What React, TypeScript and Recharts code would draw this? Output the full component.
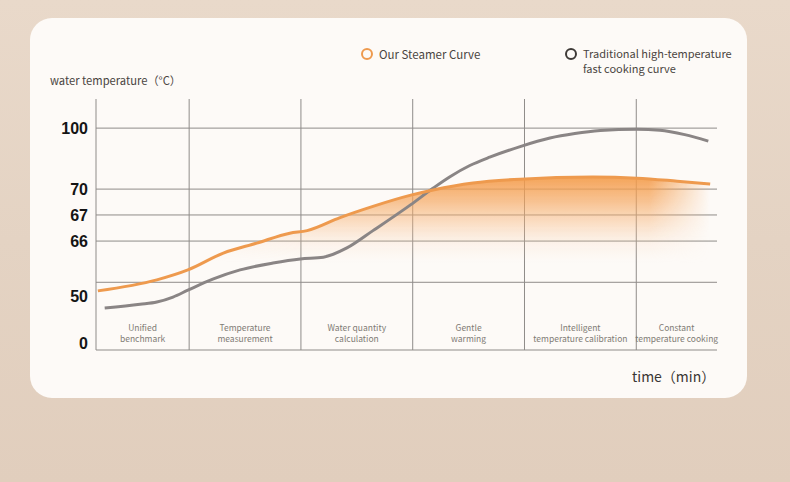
import React from 'react';
import { ComposedChart, Line, Area, XAxis, YAxis, CartesianGrid } from 'recharts';

// stage columns along the time axis (arbitrary minutes, 0..100)
const STAGE_BOUNDS = [0, 15, 33, 51, 69, 87];
const STAGE_MIDS = [7.5, 24, 42, 60, 78, 93.5];
const STAGE_LINES = [
  ['Unified', 'benchmark'],
  ['Temperature', 'measurement'],
  ['Water quantity', 'calculation'],
  ['Gentle', 'warming'],
  ['Intelligent', 'temperature calibration'],
  ['Constant', 'temperature cooking'],
];

const TEMP_TICKS = [0, 50, 66, 67, 70, 100];
const GRID_TEMPS = [54, 66, 67, 70, 100];

const STEAMER_TIME = [0.3, 9.8, 14.8, 20.5, 25.9, 31.2, 34.0, 39.3, 44.6, 50.7, 54.3, 60.7, 68.3, 80.0, 87.1, 93.6, 98.9];
const STEAMER_TEMP = [51.5, 54.7, 57.6, 62.5, 65.4, 66.3, 66.4, 66.9, 68.0, 69.3, 69.9, 73.0, 74.9, 75.9, 75.4, 73.9, 72.5];

const TRAD_TIME = [
  1.4, 7.1, 9.8, 12.4, 14.8, 18.8, 23.2, 28.5, 32.9, 36.6, 40.4, 44.6, 50.7, 54.3,
  57.0, 60.2, 63.4, 68.3, 73.1, 77.1, 81.2, 87.1, 90.8, 94.8, 98.6,
];
const TRAD_TEMP = [
  37.2, 41.2, 43.6, 48.9, 51.7, 54.9, 57.6, 59.6, 60.8, 61.3, 64.0, 66.4, 68.2, 70.5,
  76.1, 81.6, 85.7, 90.9, 95.1, 97.3, 98.8, 99.5, 99.0, 96.8, 93.6,
];

const steamerData = STEAMER_TIME.map((t, i) => ({ t, temp: STEAMER_TEMP[i] }));
const tradData = TRAD_TIME.map((t, i) => ({ t, temp: TRAD_TEMP[i] }));

// the y axis of the original is not linear: each labelled value sits at its own height
const SCALE_TEMPS = [-8, 0, 50, 66, 67, 70, 100, 114];
const SCALE_STOPS = [0, 0.028, 0.215, 0.434, 0.538, 0.641, 0.884, 1];

function brokenScale(dom: number[] = [-8, 114], rng: number[] = [0, 1]): any {
  const s: any = (v: number) => {
    let i = 0;
    while (i < SCALE_TEMPS.length - 2 && v > SCALE_TEMPS[i + 1]) i++;
    const t0 = SCALE_TEMPS[i];
    const t1 = SCALE_TEMPS[i + 1];
    const f = SCALE_STOPS[i] + ((v - t0) / (t1 - t0)) * (SCALE_STOPS[i + 1] - SCALE_STOPS[i]);
    return rng[0] + f * (rng[1] - rng[0]);
  };
  s.domain = (d?: number[]) => {
    if (!d) return dom.slice();
    dom = d.slice();
    return s;
  };
  s.range = (r?: number[]) => {
    if (!r) return rng.slice();
    rng = r.slice();
    return s;
  };
  s.copy = () => brokenScale(dom, rng);
  s.ticks = () => TEMP_TICKS;
  s.tickFormat = () => (v: number) => String(v);
  return s;
}

const FONT = '"Noto Sans CJK SC", "Noto Sans", sans-serif';
const ORANGE = '#ee9a4e';
const GREY = '#8a8585';
const GRID = '#8f8c89';

function StageTick({ x, y, index }: any) {
  const lines = STAGE_LINES[index] || [];
  return (
    <g>
      {lines.map((s, i) => (
        <text
          key={i}
          x={x}
          y={y - 23 + i * 11}
          textAnchor="middle"
          dominantBaseline="central"
          fontSize={8.5}
          fill="#807a75"
          fontFamily={FONT}
        >
          {s}
        </text>
      ))}
    </g>
  );
}

export default function App() {
  return (
    <div
      style={{
        position: 'absolute',
        left: 0,
        top: 0,
        width: 790,
        height: 482,
        background: 'linear-gradient(180deg, #e9d9ca 0%, #e4d3c3 50%, #e1cebd 100%)',
        overflow: 'hidden',
        fontFamily: FONT,
      }}
    >
      <div
        style={{
          position: 'absolute',
          left: 30,
          top: 18,
          width: 717,
          height: 380,
          borderRadius: 22,
          background: '#fdfaf7',
        }}
      />
      <div style={{ position: 'absolute', left: 50, top: 72, fontSize: 11.2, lineHeight: '16px', color: '#4a4541' }}>
        water temperature（°C）
      </div>
      <div
        style={{
          position: 'absolute',
          left: 361,
          top: 48,
          width: 8,
          height: 8,
          borderRadius: '50%',
          border: `2px solid ${ORANGE}`,
        }}
      />
      <div style={{ position: 'absolute', left: 379, top: 46, fontSize: 11.5, lineHeight: '16px', color: '#4a4541' }}>
        Our Steamer Curve
      </div>
      <div
        style={{
          position: 'absolute',
          left: 565,
          top: 48,
          width: 8,
          height: 8,
          borderRadius: '50%',
          border: '2px solid #3e3a37',
        }}
      />
      <div style={{ position: 'absolute', left: 583, top: 46, fontSize: 11, lineHeight: '14px', color: '#4a4541' }}>
        Traditional high-temperature
      </div>
      <div style={{ position: 'absolute', left: 583, top: 61, fontSize: 11, lineHeight: '14px', color: '#4a4541' }}>
        fast cooking curve
      </div>
      <div style={{ position: 'absolute', left: 632, top: 367, fontSize: 14, lineHeight: '18px', color: '#3a3633' }}>
        time（min）
      </div>

      <div style={{ position: 'absolute', left: 0, top: 0 }}>
        <ComposedChart width={790} height={482} margin={{ top: 99, right: 73, left: 36, bottom: 102 }}>
          <defs>
            <linearGradient id="glowFill" x1="0" y1="0" x2="0" y2="1">
              <stop offset="0" stopColor="#f39a48" stopOpacity={0.9} />
              <stop offset="0.15" stopColor="#f5a45a" stopOpacity={0.64} />
              <stop offset="0.28" stopColor="#f7b57a" stopOpacity={0.4} />
              <stop offset="0.4" stopColor="#f9c9a0" stopOpacity={0.15} />
              <stop offset="0.52" stopColor="#fbe0c8" stopOpacity={0} />
            </linearGradient>
            <linearGradient id="glowFade" x1="0" y1="0" x2="1" y2="0">
              <stop offset="0" stopColor="#fff" stopOpacity={0} />
              <stop offset="0.2" stopColor="#fff" stopOpacity={0.6} />
              <stop offset="0.35" stopColor="#fff" stopOpacity={1} />
              <stop offset="0.9" stopColor="#fff" stopOpacity={1} />
              <stop offset="1" stopColor="#fff" stopOpacity={0} />
            </linearGradient>
            <mask id="glowMask" maskContentUnits="objectBoundingBox">
              <rect x="0" y="0" width="1" height="1" fill="url(#glowFade)" />
            </mask>
          </defs>
          <CartesianGrid
            stroke={GRID}
            strokeWidth={1}
            horizontalValues={GRID_TEMPS}
            verticalValues={STAGE_BOUNDS}
          />
          <XAxis
            type="number"
            dataKey="t"
            domain={[0, 100]}
            ticks={STAGE_MIDS}
            interval={0}
            tick={<StageTick />}
            tickLine={false}
            tickSize={0}
            tickMargin={0}
            axisLine={{ stroke: GRID }}
            allowDuplicatedCategory={false}
          />
          <YAxis
            type="number"
            domain={[-8, 114]}
            scale={brokenScale()}
            ticks={TEMP_TICKS}
            interval={0}
            width={60}
            tickLine={false}
            tickSize={0}
            tickMargin={8}
            axisLine={false}
            tick={{ fontSize: 16, fontWeight: 700, fill: '#141414', fontFamily: '"Liberation Sans", Arial, sans-serif' }}
          />
          <Area
            data={steamerData}
            dataKey="temp"
            type="monotone"
            stroke="none"
            fill="url(#glowFill)"
            fillOpacity={1}
            mask="url(#glowMask)"
            isAnimationActive={false}
          />
          <Line
            data={tradData}
            dataKey="temp"
            type="monotone"
            stroke={GREY}
            strokeWidth={3}
            dot={false}
            isAnimationActive={false}
          />
          <Line
            data={steamerData}
            dataKey="temp"
            type="monotone"
            stroke={ORANGE}
            strokeWidth={3}
            dot={false}
            isAnimationActive={false}
          />
        </ComposedChart>
      </div>
    </div>
  );
}
